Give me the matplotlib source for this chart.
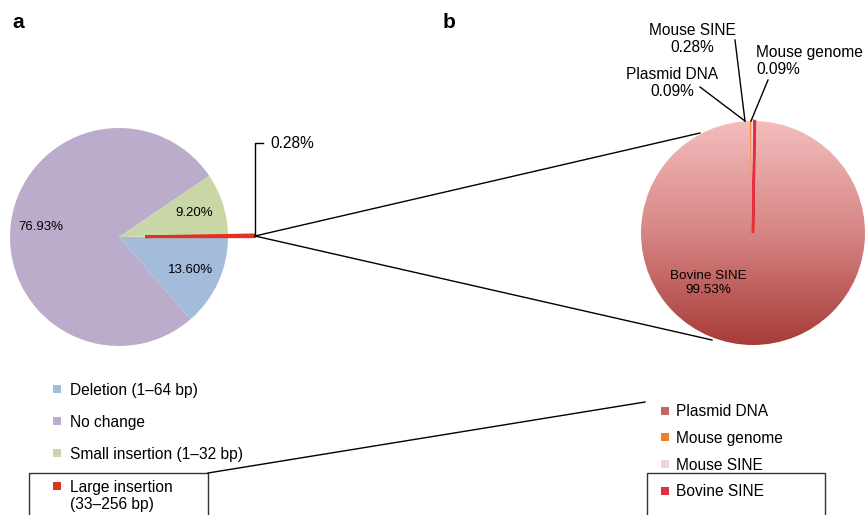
import numpy as np
import matplotlib
matplotlib.use("Agg")
import matplotlib.pyplot as plt
from matplotlib.colors import LinearSegmentedColormap
from matplotlib.patches import Rectangle

plt.rcParams['font.family'] = ['Liberation Sans', 'DejaVu Sans']

# panel a data
a_labels = ["Deletion (1\u201364 bp)", "No change", "Small insertion (1\u201332 bp)",
            "Large insertion\n(33\u2013256 bp)"]
a_values = [13.60, 76.93, 9.20, 0.28]
a_colors = ["#a3bcd9", "#bcaccb", "#c9d7a7", "#e2321f"]

# panel b data (wedges as drawn, going clockwise from 12 o'clock)
b_names = ["Bovine SINE", "Mouse genome", "Mouse SINE", "Plasmid DNA"]
b_values = [99.53, 0.09, 0.28, 0.09]
b_colors = ["#d88a88", "#f08026", "#fbe3e3", "#e3303f"]
b_legend = ["Plasmid DNA", "Mouse genome", "Mouse SINE", "Bovine SINE"]
b_legend_colors = ["#c56565", "#f08026", "#f6d3d3", "#e3303f"]

W, H = 865, 515
fig = plt.figure(figsize=(W / 100, H / 100), dpi=100)

def pie_axes(cx, cy, r, lim=1.3):
    R = r * lim
    ax = fig.add_axes([(cx - R) / W, 1 - (cy + R) / H, 2 * R / W, 2 * R / H])
    ax.set_xlim(-lim, lim)
    ax.set_ylim(-lim, lim)
    ax.axis('off')
    return ax

# ---- pie a
ax1 = pie_axes(119, 237, 109)
wa, _ = ax1.pie(a_values, colors=a_colors, counterclock=False, startangle=0,
                explode=[0, 0, 0, 0.24], wedgeprops=dict(linewidth=0))
wa[3].set_edgecolor(a_colors[3])
wa[3].set_linewidth(2.0)
ax1.set_xlim(-1.3, 1.3)
ax1.set_ylim(-1.3, 1.3)
for w, v in zip(wa[:3], a_values[:3]):
    mid = np.deg2rad((w.theta1 + w.theta2) / 2)
    ax1.text(0.72 * np.cos(mid), 0.72 * np.sin(mid), "%.2f%%" % v,
             ha='center', va='center', fontsize=9.5)

# ---- pie b
ax2 = pie_axes(753, 233, 112)
wb, _ = ax2.pie(b_values, colors=b_colors, counterclock=False, startangle=89.0,
                wedgeprops=dict(linewidth=0))
for w, c, lw in zip(wb[1:], b_colors[1:], [2.2, 1.5, 1.8]):
    w.set_edgecolor(c)
    w.set_linewidth(lw)
ax2.set_xlim(-1.3, 1.3)
ax2.set_ylim(-1.3, 1.3)
cmap = LinearSegmentedColormap.from_list("pinkred", ["#a73b37", "#d68584", "#f4bdbd"])
grad = np.linspace(0, 1, 256).reshape(-1, 1)
im = ax2.imshow(grad, extent=(-1, 1, -1, 1), origin='lower', cmap=cmap,
                aspect='auto', zorder=0.5)
im.set_clip_path(wb[0])
wb[0].set_facecolor('none')
ang = np.deg2rad(228)
ax2.text(0.6 * np.cos(ang), 0.6 * np.sin(ang), "%s\n%.2f%%" % (b_names[0], b_values[0]),
         ha='center', va='center', fontsize=9.7, linespacing=1.15)

# ---- overlay for connectors, labels and legends
ov = fig.add_axes([0, 0, 1, 1])
ov.set_xlim(0, W)
ov.set_ylim(H, 0)
ov.axis('off')
ov.patch.set_alpha(0)

ov.text(12, 22, "a", fontsize=15, fontweight='bold', va='center')
ov.text(443, 22, "b", fontsize=15, fontweight='bold', va='center')

lk = dict(color='black', linewidth=1.0)
ov.plot([255, 255, 263], [236, 143, 143], **lk)
ov.text(270, 144, "%.2f%%" % a_values[3], fontsize=11.2, va='center')
ov.plot([255, 700], [236, 133], **lk)
ov.plot([255, 712], [236, 340], **lk)

# top labels in b
ov.plot([735, 745], [40, 121], **lk)
ov.plot([700, 745], [87, 121], **lk)
ov.plot([768, 751], [80, 121], **lk)
ov.text(692, 39, "%s\n%.2f%%" % (b_names[2], b_values[2]), ha='center', va='center',
        fontsize=11.2, linespacing=1.2)
ov.text(672, 83, "%s\n%.2f%%" % (b_legend[0], b_values[3]), ha='center', va='center',
        fontsize=11.2, linespacing=1.2)
ov.text(756, 61, "%s\n%.2f%%" % (b_names[1], b_values[1]), ha='left', va='center',
        fontsize=11.2, linespacing=1.2)

# legend a
ya = [389, 421, 453, 486]
for y, lab, c in zip(ya, a_labels, a_colors):
    ov.add_patch(Rectangle((53, y - 4), 8, 8, facecolor=c, edgecolor='none'))
    ov.text(70, y + 1 if '\n' not in lab else y + 10, lab, fontsize=11.2,
            va='center', linespacing=1.1)
ov.add_patch(Rectangle((29, 473), 179, 50, facecolor='none', edgecolor='#333333',
                       linewidth=1.0, clip_on=False))
ov.plot([208, 645], [473, 402], **lk)

# legend b
yb = [411, 437, 464, 491]
for y, lab, c in zip(yb, b_legend, b_legend_colors):
    ov.add_patch(Rectangle((661, y - 4), 8, 8, facecolor=c, edgecolor='none'))
    ov.text(676, y + 1, lab, fontsize=11.2, va='center')
ov.add_patch(Rectangle((647, 473), 178, 50, facecolor='none', edgecolor='#333333',
                       linewidth=1.0, clip_on=False))

fig.savefig("out.png", dpi=100)
